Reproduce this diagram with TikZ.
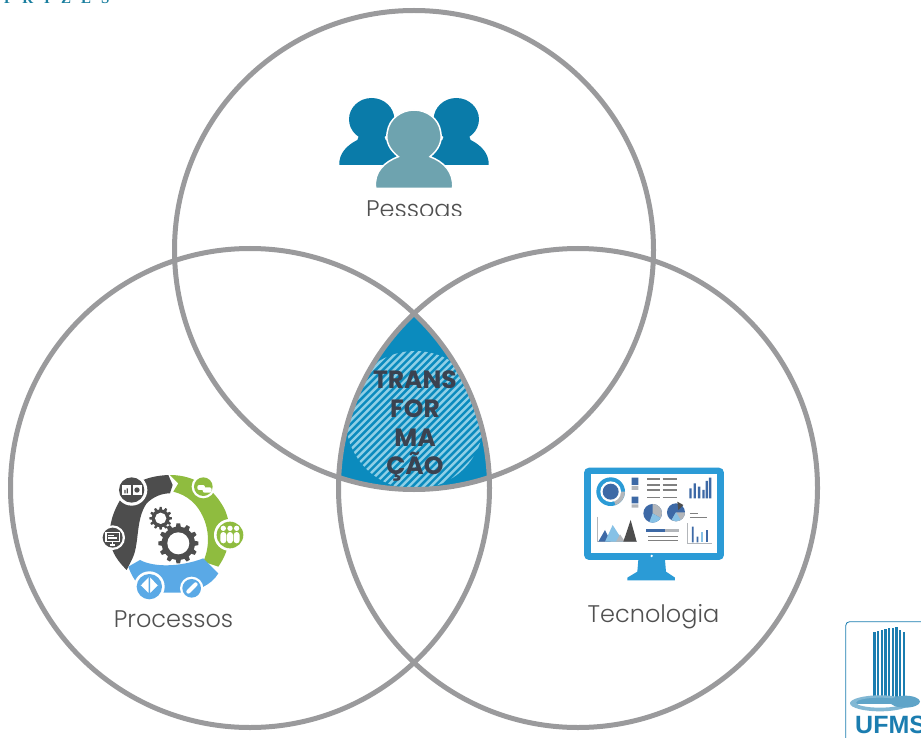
\documentclass[tikz,border=0pt]{standalone}
\usepackage{fontspec}
\setmainfont{Poppins}
\newfontfamily\lightfont{Poppins Light}
\newfontfamily\serifx{Liberation Serif}
\newfontfamily\logofont{Liberation Sans}
\definecolor{ringgray}{HTML}{9A9A9C}
\definecolor{coreblue}{HTML}{0B8BBE}
\definecolor{stripe}{HTML}{8ECFE6}
\definecolor{inktext}{HTML}{3B4250}
\definecolor{labeltext}{HTML}{505050}
\definecolor{peopledark}{HTML}{0A7BA9}
\definecolor{peoplelight}{HTML}{6EA3AF}
\definecolor{gdark}{HTML}{4D4D4D}
\definecolor{ggreen}{HTML}{8FBC3F}
\definecolor{gblue}{HTML}{5AA9E6}
\definecolor{monblue}{HTML}{2B9BD6}
\definecolor{chartblue}{HTML}{3D69A6}
\definecolor{chartlight}{HTML}{86C1E6}
\definecolor{chartgray}{HTML}{B3B6BA}
\definecolor{logoblue}{HTML}{1B7DB0}
\definecolor{headteal}{HTML}{1B7F9F}
\tikzset{
  ring/.style={draw=ringgray,line width=5pt},
  label/.style={font=\lightfont\fontsize{24}{24}\selectfont,text=labeltext,anchor=base,inner sep=0pt},
  coretext/.style={font=\fontsize{25}{25}\selectfont\bfseries,text=inktext,anchor=base,inner sep=0pt},
  iconA/.style={shift={(330,90)},x=0.3333pt,y=-0.3333pt},
  iconB/.style={shift={(90,460)},x=0.3333pt,y=-0.3333pt},
  iconC/.style={shift={(570,455)},x=0.3333pt,y=-0.3333pt},
  iconD/.style={shift={(830,610)},x=0.3333pt,y=-0.3333pt},
  glinecol/.style={draw=chartgray,line width=1pt},
}
\newcommand{\gearx}[5]{% cx cy outer inner hole
  \begin{scope}[shift={(#1,#2)}]
    \fill[gdark] (0,0) circle (#4);
    \foreach \a in {0,30,...,330}{
      \fill[gdark,rotate=\a] (-#3*0.13,#4*0.95) -- (-#3*0.09,#3) -- (#3*0.09,#3) -- (#3*0.13,#4*0.95) -- cycle;
    }
    \fill[white] (0,0) circle (#5);
  \end{scope}}
\newcommand{\badge}[5]{% cx cy outer inner colour
  \fill[white] (#1,#2) circle (#3);
  \fill[#5] (#1,#2) circle (#4);}
\begin{document}
\begin{tikzpicture}[x=1pt,y=-1pt]
\useasboundingbox (0,0) rectangle (921,738);
\fill[white] (0,0) rectangle (921,738);

% clipped heading at the top edge
\node[anchor=base west,inner sep=0pt,text=headteal,font=\serifx\fontsize{15}{15}\selectfont\bfseries] (heading) at (4,4) {P\hspace{9pt}R\hspace{11pt}I\hspace{11pt}Z\hspace{10pt}E\hspace{10pt}S};

% central region
\begin{scope}
  \clip (414,250) circle (240);
  \clip (250,488) circle (240);
  \clip (578,488) circle (240);
  \fill[coreblue] (330,300) rectangle (500,500);
  \clip (415,420) circle (69);
  \foreach \d in {200,207.3,...,500}{
    \draw[stripe,line width=2.4pt] (\d,520) -- (\d+240,280);
  }
\end{scope}

% circles
\draw[ring] (414,250) circle (239.5);
\draw[ring] (250,488) circle (239.5);
\draw[ring] (578,488) circle (239.5);

\node[coretext] (t1) at (415,388) {TRANS};
\node[coretext] (t2) at (415,417) {FOR};
\node[coretext] (t3) at (415,446) {MA};
\node[coretext] (t4) at (415,474) {ÇÃO};

% people icon
\begin{scope}[iconA]
  \foreach \m in {1,-1}{
    \begin{scope}[xshift={252*0.3333pt},xscale=\m]
      \fill[peopledark] (-127,88) ellipse (68 and 64);
      \fill[peopledark] (-224,225) .. controls (-226,190) and (-200,165) .. (-170,150)
        -- (-160,125) -- (-95,125) -- (-85,150) .. controls (-55,165) and (-30,190) .. (-24,225) -- cycle;
    \end{scope}
  }
  \fill[peoplelight,draw=white,line width=1.5pt] (137,295) .. controls (130,245) and (165,215) .. (205,200)
     .. controls (180,180) and (165,155) .. (172,125)
     .. controls (178,85) and (215,60) .. (252,60)
     .. controls (290,60) and (326,85) .. (332,125)
     .. controls (338,155) and (325,180) .. (300,200)
     .. controls (340,215) and (372,245) .. (368,295) -- cycle;
\end{scope}
\begin{scope}
  \clip (340,190) rectangle (490,216);
  \node[label] (pessoas) at (414.5,218) {Pessoas};
\end{scope}

% process icon
\begin{scope}[iconB]
  \fill[gdark] (248,75) -- (235,45) .. controls (170,48) and (125,70) .. (100,105)
     .. controls (70,150) and (55,195) .. (60,240) .. controls (65,280) and (85,305) .. (110,330)
     -- (125,300) .. controls (150,255) and (135,180) .. (170,130) .. controls (190,110) and (215,100) .. (240,100) -- cycle;
  \fill[ggreen] (240,45) .. controls (320,45) and (375,90) .. (405,150)
     .. controls (430,210) and (420,270) .. (385,320) -- (340,305)
     .. controls (355,270) and (360,230) .. (345,185) .. controls (325,130) and (290,105) .. (250,95)
     -- (265,70) -- cycle;
  \fill[gblue] (115,320) -- (150,300) .. controls (190,322) and (270,322) .. (340,295)
     -- (385,340) .. controls (365,375) and (320,395) .. (270,398)
     -- (170,398) .. controls (145,380) and (125,350) .. (115,320) -- cycle;
  \gearx{265}{250}{60}{50}{33}
  \gearx{212}{175}{34}{27}{17}
  \badge{125}{90}{47}{38}{gdark}
  \badge{68}{233}{37}{30}{gdark}
  \badge{340}{80}{35}{28}{ggreen}
  \badge{420}{225}{48}{40}{ggreen}
  \badge{178}{380}{46}{38}{gblue}
  \badge{305}{385}{35}{28}{gblue}
  % glyphs
  \fill[white] (97,75) rectangle (123,105);
  \fill[white] (128,75) rectangle (155,105);
  \fill[gdark] (103,90) rectangle (107,100) (110,85) rectangle (114,100);
  \fill[gdark] (141,90) circle (8);
  \draw[white,line width=1.5pt] (48,218) rectangle (88,245);
  \draw[white,line width=1.5pt] (55,226) -- (72,226) (55,234) -- (80,234) (60,255) -- (76,255) (68,245) -- (68,255);
  \fill[white,rounded corners=2pt] (322,75) rectangle (345,90) (338,82) rectangle (365,98);
  \foreach \c in {400,420,440}{
    \fill[white] (\c,205) circle (8);
    \fill[white,rounded corners=3pt] (\c-9,216) rectangle (\c+9,250);
  }
  \fill[white] (178,350) -- (205,378) -- (178,405) -- (151,378) -- cycle;
  \draw[gblue,line width=1.5pt] (151,378) -- (178,405) -- (205,378) (178,350) -- (178,405);
  \draw[white,line width=4pt,line cap=round] (295,395) -- (315,375);
  \fill[white] (317,373) circle (6);
\end{scope}
\node[label] (processos) at (173.5,627) {Processos};

% monitor icon
\begin{scope}[iconC]
  \fill[monblue] (205,315) -- (285,315) -- (288,350) -- (315,368) -- (315,376) -- (172,376) -- (172,368) -- (202,350) -- cycle;
  \fill[monblue,rounded corners=5pt] (42,38) rectangle (462,315);
  \fill[white] (62,56) rectangle (442,295);
  \fill[white] (245,303) circle (4);
  \fill[monblue] (122,110) circle (43);
  \fill[chartgray] (122,110) -- (165,110) arc (0:70:43) -- cycle;
  \fill[white] (122,110) circle (31);
  \fill[chartblue] (122,110) circle (24);
  \fill[chartblue] (185,68) rectangle (205,90) (185,125) rectangle (205,145);
  \fill[chartgray] (185,93) rectangle (205,105) (185,148) rectangle (205,158);
  \foreach \y in {72,90,105,128}{\draw[gray,line width=1.1pt] (232,\y) -- (270,\y) (278,\y) -- (322,\y);}
  \fill[chartblue] (358,100) rectangle (365,130) (371,85) rectangle (378,130) (384,95) rectangle (391,130)
     (397,105) rectangle (404,130) (407,78) rectangle (414,130) (417,68) rectangle (424,130);
  \fill[chartblue] (248,175) circle (28);
  \fill[chartgray] (248,175) -- (248,147) arc (-90:30:28) -- cycle;
  \fill[chartlight] (248,175) -- (272,189) arc (30:110:28) -- cycle;
  \fill[chartblue] (318,172) circle (27);
  \fill[chartgray] (318,172) -- (345,172) arc (0:120:27) -- cycle;
  \fill[chartlight] (318,172) -- (305,195) arc (120:60:27) -- cycle;
  \fill[gdark] (322,140) -- (340,150) -- (325,165) -- cycle;
  \draw[gray,line width=1pt] (360,175) -- (385,175) (360,187) -- (410,187);
  \draw[glinecol] (82,185) -- (82,260) -- (200,260);
  \fill[chartblue] (85,260) -- (105,225) -- (122,260) -- cycle;
  \fill[chartlight] (105,260) -- (128,210) -- (160,260) -- cycle;
  \fill[chartgray] (138,260) -- (150,238) -- (165,260) -- cycle;
  \fill[gdark] (160,260) -- (182,195) -- (200,260) -- cycle;
  \fill[chartblue] (228,222) rectangle (285,232);
  \fill[chartgray] (285,222) rectangle (328,232);
  \draw[gray,line width=1pt] (235,245) -- (325,245) (235,258) -- (325,258);
  \draw[glinecol] (352,205) -- (352,265) -- (425,265);
  \fill[chartblue] (366,215) rectangle (371,262) (380,245) rectangle (385,262);
  \fill[chartlight] (393,230) rectangle (398,262);
  \fill[chartblue] (408,225) rectangle (413,262);
\end{scope}
\node[label] (tecnologia) at (653.5,622) {Tecnologia};

% logo
\begin{scope}[iconD]
  \draw[logoblue,line width=0.8pt,rounded corners=4pt] (47,390) -- (47,35) -- (280,35);
  \foreach \x/\t in {130/65,141/62,152/60,163/58,174/55,185/53,196/50,207/60,218/65}{
    \fill[logoblue] (\x,\t) rectangle (\x+7,270);
  }
  \fill[logoblue!70] (60,282) arc (180:360:90 and 22) -- cycle;
  \fill[logoblue!55,even odd rule] (150,280) ellipse (90 and 24) (150,278) ellipse (72 and 15);
  \fill[logoblue!70] (225,275) ellipse (45 and 18);
\end{scope}
\node[anchor=base west,inner sep=0pt,text=logoblue,font=\logofont\fontsize{25}{25}\selectfont\bfseries] (ufms) at (855,733) {UFMS};
\end{tikzpicture}
\end{document}
